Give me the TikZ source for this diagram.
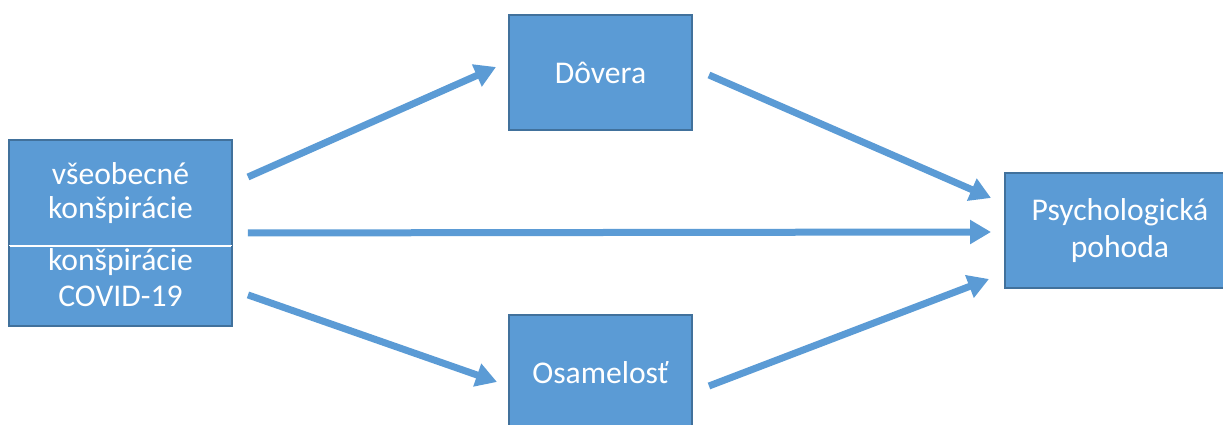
\documentclass[tikz,border=0pt]{standalone}
\usepackage{fontspec}
\setmainfont{Carlito}
\usetikzlibrary{arrows.meta,positioning}
\definecolor{boxblue}{RGB}{91,155,213}
\definecolor{boxedge}{RGB}{65,113,156}

\begin{document}
\begin{tikzpicture}[factor/.style={rectangle,fill=boxblue,draw=boxedge,line width=1.1pt,text=white,align=center,inner sep=0,font=\fontsize{18}{19.5}\selectfont},link/.style={draw=boxblue,line width=0.14cm,-{Triangle[length=0.42cm,width=0.46cm]}}]

\path[use as bounding box,clip] (0,0) rectangle (24.46,-8.5);

% Nodes
\node[factor,draw=none,minimum width=4.42cm,minimum height=2.08cm] (gen) at (2.41,-3.86) {všeobecné\\konšpirácie};
\node[factor,draw=none,minimum width=4.42cm,minimum height=1.56cm,below=0pt of gen,text depth=0.32cm,font=\fontsize{18}{20.5}\selectfont] (cov) {konšpirácie\\COVID-19};
\draw[boxedge,line width=1.1pt] (gen.north west) rectangle (cov.south east);
\draw[white,line width=0.6pt] (gen.south west) -- (gen.south east);
\node[factor,minimum width=3.66cm,minimum height=2.3cm] (dov) at (12.01,-1.45) {Dôvera};
\node[factor,minimum width=3.66cm,minimum height=2.3cm] (osa) at (12.01,-7.45) {Osamelosť};
\node[factor,minimum width=4.6cm,minimum height=2.3cm,font=\fontsize{18}{21.5}\selectfont] (psy) at (22.4,-4.61) {Psychologická\\pohoda};

%arcs
\path ([shift={(0.32,0.32)}]gen.east) edge[link] ([shift={(-0.24,0.11)}]dov.west);
\path ([shift={(0.32,0.26)}]gen.south east) edge[link] ([shift={(-0.26,-0.03)}]psy.west);
\path ([shift={(0.32,-0.18)}]cov.east) edge[link] ([shift={(-0.22,-0.19)}]osa.west);
\path ([shift={(0.32,-0.05)}]dov.east) edge[link] ([shift={(-0.26,0.65)}]psy.west);
\path ([shift={(0.32,-0.27)}]osa.east) edge[link] ([shift={(-0.30,-0.97)}]psy.west);

\end{tikzpicture}
\end{document}
